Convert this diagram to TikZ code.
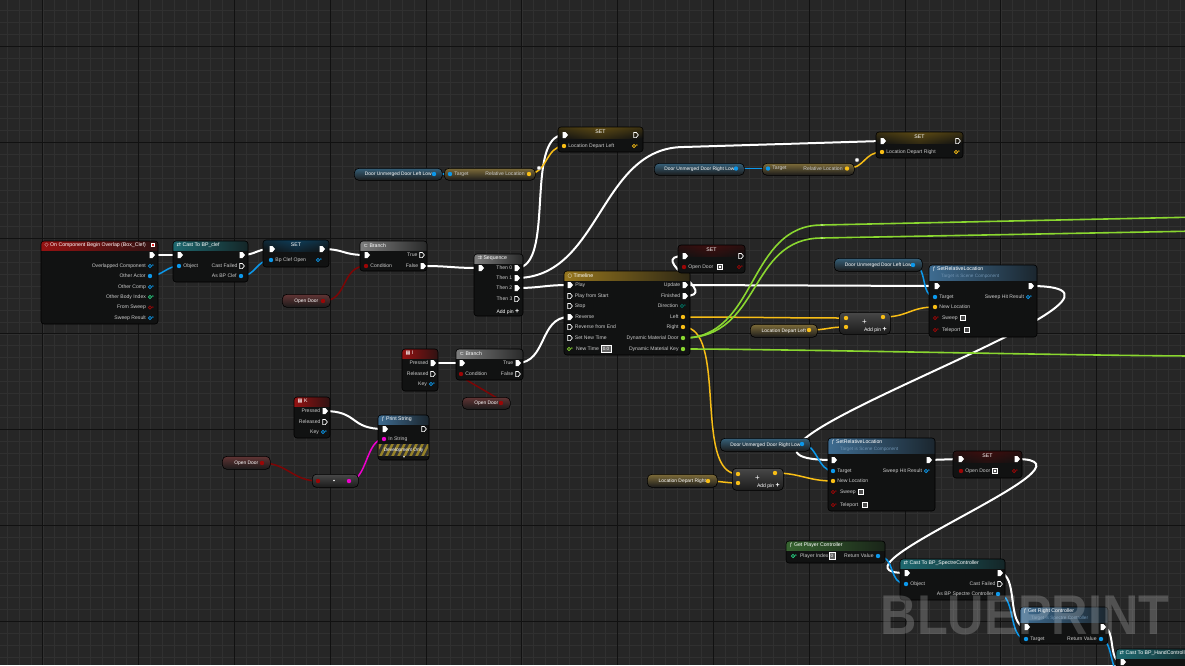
\documentclass[tikz,border=0pt]{standalone}
\usepackage{fontspec}
\setmainfont{Liberation Sans}
\newfontfamily\sym{DejaVu Sans}
\usetikzlibrary{shapes.symbols}
\pgfdeclarelayer{grid}
\pgfdeclarelayer{wires}
\pgfdeclarelayer{top}
\pgfsetlayers{grid,wires,main,top}

\definecolor{bgc}{RGB}{38,38,38}
\definecolor{minorc}{RGB}{48,48,48}
\definecolor{majorc}{RGB}{17,17,17}
\definecolor{bodyc}{RGB}{17,18,18}
\definecolor{labc}{RGB}{205,205,205}
\definecolor{objc}{RGB}{12,152,235}
\definecolor{vecc}{RGB}{248,190,22}
\definecolor{boolc}{RGB}{155,6,6}
\definecolor{boolw}{RGB}{125,5,5}
\definecolor{strc}{RGB}{238,0,205}
\definecolor{greenc}{RGB}{138,215,48}
\definecolor{intc}{RGB}{40,210,130}
\definecolor{dirc}{RGB}{0,115,98}
\definecolor{evred}{RGB}{150,18,18}
\definecolor{castc}{RGB}{30,105,112}
\definecolor{grayh}{RGB}{125,125,125}
\definecolor{tlc}{RGB}{150,118,30}
\definecolor{fnc}{RGB}{62,108,145}
\definecolor{gpcc}{RGB}{55,100,48}
\definecolor{subc}{RGB}{110,145,175}
\definecolor{pilltop}{RGB}{72,72,72}
\definecolor{pillbot}{RGB}{27,27,27}
\definecolor{devy}{RGB}{150,130,40}

\tikzset{
  minorline/.style={draw=minorc, line width=0.6pt},
  majorline/.style={draw=majorc, line width=1pt},
  bpbody/.style={anchor=north west, fill=bodyc, draw=none, rounded corners=3pt, inner sep=0pt, outer sep=0pt},
  bpedge/.style={draw=black, line width=0.6pt, rounded corners=3pt},
  ttl/.style={anchor=west, text=white, font=\fontsize{5.2}{6}\selectfont, inner sep=0pt},
  subt/.style={anchor=west, text=subc, font=\fontsize{4.7}{5.5}\selectfont, inner sep=0pt},
  lbl/.style={text=labc, font=\fontsize{5.1}{6}\selectfont, inner sep=0pt},
  pill/.style={anchor=north west, draw=black, line width=0.6pt, rounded corners=4.5pt, inner sep=0pt, text=white, font=\fontsize{4.9}{6}\selectfont},
  addb/.style={anchor=north west, draw=black, line width=0.6pt, rounded corners=4pt, inner sep=0pt, top color=pilltop, bottom color=pillbot},
  exf/.style={signal, signal to=east, signal pointer angle=100, fill=white, draw=none, inner sep=0pt, minimum width=5.5pt, minimum height=6pt},
  exh/.style={signal, signal to=east, signal pointer angle=100, draw=white, line width=0.7pt, fill=none, inner sep=0pt, minimum width=4.6pt, minimum height=5.2pt},
  dp/.style={circle, fill=#1, draw=none, inner sep=0pt, minimum size=4.4pt},
  dh/.style={circle, draw=#1, line width=0.75pt, fill=none, inner sep=0pt, minimum size=3.4pt, label={[text=#1, inner sep=0pt, xshift=-1.6pt, font=\sym\fontsize{3.6}{4}\selectfont]right:▸}},
  chk/.style={draw=white!80, line width=0.5pt, fill=black!70, inner sep=0pt, minimum size=4.6pt},
  chkon/.style={chk, path picture={\fill[white!85] ([shift={(-1.2pt,-1.2pt)}]path picture bounding box.center) rectangle ([shift={(1.2pt,1.2pt)}]path picture bounding box.center);}},
  valbox/.style={draw=white!60, line width=0.4pt, fill=black!60, text=white, font=\fontsize{4.6}{5}\selectfont, inner sep=0.8pt, minimum height=7pt},
  knotw/.style={circle, fill=white!85, draw=gray, line width=0.3pt, inner sep=0pt, minimum size=4pt},
  knotg/.style={rectangle, fill=greenc!70!white, inner sep=0pt, minimum size=2.6pt},
  wx/.style={draw=white, line width=2pt, line cap=round},
  wo/.style={draw=objc, line width=1.5pt, line cap=round},
  wv/.style={draw=vecc, line width=1.5pt, line cap=round},
  wb/.style={draw=boolw, line width=1.5pt, line cap=round},
  ws/.style={draw=strc, line width=1.5pt, line cap=round},
  wg/.style={draw=greenc, line width=1.6pt, line cap=round},
}

% name, x, y, w, h, header colour, header height, title
\newcommand{\bpbox}[8]{%
  \node[bpbody, minimum width=#4pt, minimum height=#5pt] (#1) at (#2,#3) {};
  \begin{scope}
    \clip[rounded corners=3pt] (#2,#3) rectangle ++(#4,#5);
    \shade[left color=#6, right color=#6!22!bodyc] (#2,#3) rectangle ++(#4,#7);
  \end{scope}
  \draw[bpedge] (#2,#3) rectangle ++(#4,#5);
  \node[ttl] (#1-t) at (#2+3.5,#3+4.5) {#8};
}
% name, x, y, w, h, glow colour
\newcommand{\bpsetbox}[6]{%
  \node[bpbody, minimum width=#4pt, minimum height=#5pt] (#1) at (#2,#3) {};
  \begin{scope}
    \clip[rounded corners=3pt] (#2,#3) rectangle ++(#4,#5);
    \shade[top color=#6!45!bodyc, bottom color=bodyc] (#2,#3) rectangle ++(#4,11);
    \shade[left color=bodyc, right color=bodyc, middle color=#6!25!bodyc, opacity=0.6] (#2,#3) rectangle ++(#4,11);
  \end{scope}
  \draw[bpedge] (#2,#3) rectangle ++(#4,#5);
  \node[ttl, anchor=center] (#1-t) at (#2+#4/2,#3+5) {SET};
}
% name, x, y, w, h, glow, text
\newcommand{\bppill}[7]{%
  \node[pill, minimum width=#4pt, minimum height=#5pt, top color=#6!30!pilltop, bottom color=pillbot] (#1) at (#2,#3) {#7\hspace{7pt}};
}
% name, x, y
\newcommand{\bpadd}[3]{%
  \node[addb, minimum width=51pt, minimum height=22pt] (#1) at (#2,#3) {};
  \node[text=white!55, font=\fontsize{8}{8}\selectfont, inner sep=0pt] (#1-plus) at (#2+25.5,#3+10) {+};
  \node[lbl, text=white!85, anchor=east] (#1-ap) at (#2+48,#3+17.5) {Add pin {\fontsize{7}{7}\selectfont\textbf{+}}};
}

\begin{document}
\begin{tikzpicture}[x=1pt, y=-1pt, label distance=1.8pt]
\useasboundingbox (0,0) rectangle (1185,665);
\begin{pgfonlayer}{grid}
  \fill[bgc] (0,0) rectangle (1185,665);
  \foreach \i in {-76,...,24} \draw[minorline] ({905+11.975*\i},0) -- ++(0,665);
  \foreach \j in {-20,...,36} \draw[minorline] (0,{238+11.975*\j}) -- ++(1185,0);
  \foreach \i in {-10,...,3} \draw[majorline] ({905+95.8*\i},0) -- ++(0,665);
  \foreach \j in {-3,...,5} \draw[majorline] (0,{238+95.8*\j}) -- ++(1185,0);
\end{pgfonlayer}

\begin{scope}
\clip (0,0) rectangle (1185,665);
% ---- On Component Begin Overlap
\bpbox{ev}{41}{241}{117}{83}{evred}{9}{{\sym ◇}\ On Component Begin Overlap (Box\_Clef)}
\node[fill={rgb,255:red,225;green,30;blue,30}, draw=white!60, line width=0.3pt, minimum size=3.2pt, inner sep=0pt] (ev-sq) at (153,245) {};
\node[exf] (ev-x) at (151,255) {};
\node[dh=objc, label={[lbl]left:Overlapped Component}] (ev-oc) at (150,266) {};
\node[dp=objc, label={[lbl]left:Other Actor}] (ev-oa) at (150,276) {};
\node[dh=objc, label={[lbl]left:Other Comp}] (ev-ocp) at (150,287) {};
\node[dh=intc, label={[lbl]left:Other Body Index}] (ev-obi) at (150,297) {};
\node[dh=boolc, label={[lbl]left:From Sweep}] (ev-fs) at (150,307.5) {};
\node[dh=objc, label={[lbl]left:Sweep Result}] (ev-sr) at (150,318) {};
% ---- Cast To BP_clef
\bpbox{cast}{173}{241}{75}{41}{castc}{9}{{\sym ⇄}\ Cast To BP\_clef}
\node[exf] (cast-in) at (179,255) {};
\node[exf] (cast-out) at (241,255) {};
\node[dp=objc, label={[lbl]right:Object}] (cast-obj) at (179,266) {};
\node[exh, label={[lbl]left:Cast Failed}] (cast-fail) at (241,266) {};
\node[dp=objc, label={[lbl]left:As BP Clef}] (cast-as) at (241,276) {};
% ---- SET Bp Clef Open
\bpsetbox{set1}{263}{240}{66}{27}{objc}
\node[exf] (set1-in) at (271,249) {};
\node[exf] (set1-out) at (321,249) {};
\node[dp=objc, label={[lbl]right:Bp Clef Open}] (set1-bc) at (271,260) {};
\node[dh=objc] (set1-bco) at (318,260) {};
% ---- Branch 1
\bpbox{br1}{360}{241}{67}{30}{grayh}{9}{{\sym ⊂}\ Branch}
\node[exf] (br1-in) at (366,255) {};
\node[exh, label={[lbl]left:True}] (br1-t) at (421,255) {};
\node[dp=boolc, label={[lbl]right:Condition}] (br1-c) at (366,266) {};
\node[exf, label={[lbl]left:False}] (br1-f) at (422,266) {};
\bppill{od1}{282}{294}{48}{13}{boolc}{Open Door}
\node[dp=boolc] (od1-p) at (323,301) {};
% ---- Sequence
\bpbox{seq}{474}{254}{49}{62}{grayh}{9}{{\sym ⇉}\ Sequence}
\node[exf] (seq-in) at (480,268) {};
\node[exf, label={[lbl]left:Then 0}] (seq-t0) at (516,268) {};
\node[exf, label={[lbl]left:Then 1}] (seq-t1) at (516,278) {};
\node[exf, label={[lbl]left:Then 2}] (seq-t2) at (516,288) {};
\node[exh, label={[lbl]left:Then 3}] (seq-t3) at (516,299) {};
\node[lbl, anchor=east, text=white!85] (seq-add) at (519.5,312) {Add pin {\fontsize{7}{7}\selectfont\textbf{+}}};
% ---- Timeline
\bpbox{tl}{564}{271}{126}{84}{tlc}{9}{{\sym ○}\ Timeline}
\node[exf, label={[lbl]right:Play}] (tl-play) at (569,285) {};
\node[exh, label={[lbl]right:Play from Start}] (tl-pfs) at (569,296) {};
\node[exh, label={[lbl]right:Stop}] (tl-stop) at (569,306) {};
\node[exf, label={[lbl]right:Reverse}] (tl-rev) at (569,317) {};
\node[exh, label={[lbl]right:Reverse from End}] (tl-rfe) at (569,327) {};
\node[exh, label={[lbl]right:Set New Time}] (tl-snt) at (569,338) {};
\node[dh=greenc, label={[lbl, xshift=3pt]right:New Time}] (tl-nt) at (569,349) {};
\node[valbox, minimum width=10pt] (tl-ntv) at (606,349) {0.0};
\node[exf, label={[lbl]left:Update}] (tl-upd) at (684,285) {};
\node[exf, label={[lbl]left:Finished}] (tl-fin) at (684,296) {};
\node[dh=dirc, label={[lbl]left:Direction}] (tl-dir) at (682,306) {};
\node[dp=vecc, label={[lbl]left:Left}] (tl-l) at (683,317) {};
\node[dp=vecc, label={[lbl]left:Right}] (tl-r) at (683,327) {};
\node[dp=greenc, label={[lbl]left:Dynamic Material Door}] (tl-dd) at (683,338) {};
\node[dp=greenc, label={[lbl]left:Dynamic Material Key}] (tl-dk) at (683,349) {};
% ---- SET Open Door (top)
\bpsetbox{set2}{678}{245}{67}{28}{boolc}
\node[exf] (set2-in) at (684,256) {};
\node[exh] (set2-out) at (740,256) {};
\node[dp=boolc, label={[lbl]right:Open Door}] (set2-od) at (684,267) {};
\node[chkon] (set2-chk) at (720,267) {};
\node[dh=boolc] (set2-odo) at (739,267) {};
% ---- SET Location Depart Left
\bpsetbox{setL}{558}{127}{85}{25}{vecc}
\node[exf] (setL-in) at (564,135) {};
\node[exh] (setL-out) at (635,135) {};
\node[dp=vecc, label={[lbl]right:Location Depart Left}] (setL-v) at (564,146) {};
\node[dh=vecc] (setL-vo) at (634,146) {};
\bppill{dl1}{354}{168}{88}{12}{objc}{Door Unmerged Door Left Low}
\node[dp=objc] (dl1-p) at (434,174) {};
\bppill{rl1}{444}{168}{91}{12}{vecc}{}
\node[dp=objc, label={[lbl]right:Target}] (rl1-t) at (450,174) {};
\node[dp=vecc, label={[lbl]left:Relative Location}] (rl1-o) at (529,174) {};
% ---- SET Location Depart Right
\bpsetbox{setR}{876}{132}{87}{26}{vecc}
\node[exf] (setR-in) at (882,141) {};
\node[exh] (setR-out) at (957,141) {};
\node[dp=vecc, label={[lbl]right:Location Depart Right}] (setR-v) at (882,152) {};
\node[dh=vecc] (setR-vo) at (956,152) {};
\bppill{dr1}{654}{163}{90}{12}{objc}{Door Unmerged Door Right Low}
\node[dp=objc] (dr1-p) at (736,168.5) {};
\bppill{rl2}{762}{163}{92}{12}{vecc}{}
\node[dp=objc, label={[lbl]right:Target}] (rl2-t) at (768,168.5) {};
\node[dp=vecc, label={[lbl]left:Relative Location}] (rl2-o) at (847,168.5) {};
% ---- SetRelativeLocation (top)
\bpbox{srl1}{929}{265}{108}{72}{fnc}{15}{ƒ\ SetRelativeLocation}
\node[subt] (srl1-s) at (941,276) {Target is Scene Component};
\node[exf] (srl1-in) at (936,286) {};
\node[exf] (srl1-out) at (1030,286) {};
\node[dp=objc, label={[lbl]right:Target}] (srl1-t) at (935,297) {};
\node[dh=objc, label={[lbl]left:Sweep Hit Result}] (srl1-shr) at (1028,297) {};
\node[dp=vecc, label={[lbl]right:New Location}] (srl1-nl) at (935,307) {};
\node[dh=boolc, label={[lbl, xshift=3pt]right:Sweep}] (srl1-sw) at (935,318) {};
\node[chk] (srl1-swc) at (963,318) {};
\node[dh=boolc, label={[lbl, xshift=3pt]right:Teleport}] (srl1-tp) at (935,330) {};
\node[chk] (srl1-tpc) at (967,330) {};
\bppill{dl2}{834}{258}{88}{13}{objc}{Door Unmerged Door Left Low}
\node[dp=objc] (dl2-p) at (913,265) {};
\bpadd{add1}{839}{312}
\node[dp=vecc] (add1-a) at (846,318) {};
\node[dp=vecc] (add1-b) at (846,327) {};
\node[dp=vecc] (add1-o) at (883,317) {};
\bppill{ldl}{750}{324}{67}{13}{vecc}{Location Depart Left}
\node[dp=vecc] (ldl-p) at (809,330) {};
% ---- Input I
\bpbox{evI}{402}{349}{36}{42}{evred}{9}{{\sym ▦}\ I}
\node[exf, label={[lbl]left:Pressed}] (evI-p) at (432,363) {};
\node[exh, label={[lbl]left:Released}] (evI-r) at (432,374) {};
\node[dh=objc, label={[lbl]left:Key}] (evI-k) at (431,384) {};
% ---- Branch 2
\bpbox{br2}{456}{349}{67}{31}{grayh}{9}{{\sym ⊂}\ Branch}
\node[exf] (br2-in) at (461,363) {};
\node[exf, label={[lbl]left:True}] (br2-t) at (517,363) {};
\node[dp=boolc, label={[lbl]right:Condition}] (br2-c) at (461,374) {};
\node[exh, label={[lbl]left:False}] (br2-f) at (517,374) {};
\bppill{od2}{462}{397}{48}{12}{boolc}{Open Door}
\node[dp=boolc] (od2-p) at (501,403) {};
% ---- Input K
\bpbox{evK}{294}{397}{36}{41}{evred}{9}{{\sym ▦}\ K}
\node[exf, label={[lbl]left:Pressed}] (evK-p) at (324,411) {};
\node[exh, label={[lbl]left:Released}] (evK-r) at (324,422) {};
\node[dh=objc, label={[lbl]left:Key}] (evK-k) at (323,432) {};
% ---- Print String
\bpbox{ps}{378}{415}{51}{45}{fnc}{9}{ƒ\ Print String}
\node[exf] (ps-in) at (384,429) {};
\node[exh] (ps-out) at (423,429) {};
\node[dp=strc, label={[lbl]right:In String}] (ps-str) at (384,439) {};
\begin{scope}
  \clip (378.6,444) rectangle (428.4,456);
  \fill[devy] (378,444) rectangle (429,456);
  \foreach \i in {0,...,10} \fill[black!80] ({370+6*\i},456) -- ++(3,0) -- ++(6,-12) -- ++(-3,0) -- cycle;
\end{scope}
\node[text=white!92, font=\fontsize{4.8}{5}\selectfont, inner sep=0pt] (ps-dev) at (403.5,450) {Development Only};
\node[text=white, font=\sym\fontsize{4}{4}\selectfont, inner sep=0pt] (ps-arr) at (404,457.2) {▾};
\bppill{od3}{222}{456}{48}{13}{boolc}{Open Door}
\node[dp=boolc] (od3-p) at (262,463) {};
\node[addb, minimum width=46pt, minimum height=13pt] (conv) at (312,474) {};
\node[circle, fill=white!55, inner sep=0pt, minimum size=1.6pt] (conv-dot) at (334,480.5) {};
\node[dp=boolc] (conv-i) at (318,481) {};
\node[dp=strc] (conv-o) at (349,481) {};
% ---- SetRelativeLocation (lower)
\bppill{dr2}{720}{438}{90}{13}{objc}{Door Unmerged Door Right Low}
\node[dp=objc] (dr2-p) at (802,444) {};
\bpbox{srl2}{828}{438}{107}{73}{fnc}{15}{ƒ\ SetRelativeLocation}
\node[subt] (srl2-s) at (840,449.5) {Target is Scene Component};
\node[exf] (srl2-in) at (833,460) {};
\node[exf] (srl2-out) at (928,460) {};
\node[dp=objc, label={[lbl]right:Target}] (srl2-t) at (833,471) {};
\node[dh=objc, label={[lbl]left:Sweep Hit Result}] (srl2-shr) at (926,471) {};
\node[dp=vecc, label={[lbl]right:New Location}] (srl2-nl) at (833,481) {};
\node[dh=boolc, label={[lbl, xshift=3pt]right:Sweep}] (srl2-sw) at (833,492) {};
\node[chk] (srl2-swc) at (861,492) {};
\node[dh=boolc, label={[lbl, xshift=3pt]right:Teleport}] (srl2-tp) at (833,505) {};
\node[chk] (srl2-tpc) at (865,505) {};
\bpadd{add2}{732}{468}
\node[dp=vecc] (add2-a) at (738,474) {};
\node[dp=vecc] (add2-b) at (738,483) {};
\node[dp=vecc] (add2-o) at (775,473) {};
\bppill{ldr}{647}{474}{70}{13}{vecc}{Location Depart Right}
\node[dp=vecc] (ldr-p) at (708,481) {};
% ---- SET Open Door (lower)
\bpsetbox{set3}{953}{451}{69}{27}{boolc}
\node[exf] (set3-in) at (960,459) {};
\node[exf] (set3-out) at (1016,459) {};
\node[dp=boolc, label={[lbl]right:Open Door}] (set3-od) at (961,471) {};
\node[chkon] (set3-chk) at (995,471) {};
\node[dh=boolc] (set3-odo) at (1014,471) {};
% ---- Get Player Controller
\bpbox{gpc}{786}{541}{99}{22}{gpcc}{9}{ƒ\ Get Player Controller}
\node[dh=intc, label={[lbl, xshift=3pt]right:Player Index}] (gpc-pi) at (793,556) {};
\node[valbox, minimum width=6pt] (gpc-piv) at (832,556) {0};
\node[dp=objc, label={[lbl]left:Return Value}] (gpc-rv) at (878,556) {};
% ---- Cast To BP_SpectreController
\bpbox{cs}{900}{559}{105}{41}{castc}{9}{{\sym ⇄}\ Cast To BP\_SpectreController}
\node[exf] (cs-in) at (906,573) {};
\node[exf] (cs-out) at (999,573) {};
\node[dp=objc, label={[lbl]right:Object}] (cs-obj) at (906,584) {};
\node[exh, label={[lbl]left:Cast Failed}] (cs-fail) at (999,584) {};
\node[dp=objc, label={[lbl]left:As BP Spectre Controller}] (cs-as) at (998,594) {};
% ---- Get Right Controller
\bpbox{grc}{1020}{607}{88}{37}{fnc}{15}{ƒ\ Get Right Controller}
\node[subt] (grc-s) at (1031,618) {Target is Spectre Controller};
\node[exf] (grc-in) at (1026,627) {};
\node[exf] (grc-out) at (1102,627) {};
\node[dp=objc, label={[lbl]right:Target}] (grc-t) at (1026,639) {};
\node[dp=objc, label={[lbl]left:Return Value}] (grc-rv) at (1101,639) {};
% ---- Cast To BP_HandController (cut off)
\bpbox{ch}{1116}{649}{90}{30}{castc}{9}{{\sym ⇄}\ Cast To BP\_HandController}
\node[exf] (ch-in) at (1122,662) {};
\coordinate (ch-obj) at (1122,676);
% ---- knots and off-picture ends
\node[knotw] (k1) at (539,168) {};
\node[rectangle, fill=white, inner sep=0pt, minimum size=2.6pt] (k2) at (684,147) {};
\node[knotw] (k3) at (857,160) {};
\node[knotg] (gk1) at (822,225) {};
\node[knotg] (gk2) at (822,238) {};
\coordinate (g1end) at (1200,217);
\coordinate (g2end) at (1200,231);
\coordinate (g3end) at (1200,356);
\end{scope}

\begin{pgfonlayer}{wires}
\clip (0,0) rectangle (1185,665);
% exec wires
\draw[wx] (ev-x.center) -- (cast-in.center);
\draw[wx] (cast-out.center) .. controls +(15,0) and +(-15,0) .. (set1-in.center);
\draw[wx] (set1-out.center) .. controls +(25,0) and +(-25,0) .. (br1-in.center);
\draw[wx] (br1-f.center) .. controls +(30,0) and +(-30,0) .. (seq-in.center);
\draw[wx] (seq-t0.center) .. controls +(40,0) and +(-40,0) .. (setL-in.center);
\draw[wx] (seq-t1.center) .. controls +(85,0) and +(-85,0) .. (k2.center) -- (setR-in.center);
\draw[wx] (seq-t2.center) .. controls +(25,0) and +(-25,0) .. (tl-play.center);
\draw[wx] (tl-upd.center) -- (srl1-in.center);
\draw[wx] (tl-fin.center) .. controls +(40,0) and +(-40,0) .. (set2-in.center);
\draw[wx] (srl1-out.center) .. controls +(175,0) and +(-180,0) .. (srl2-in.center);
\draw[wx] (srl2-out.center) -- (set3-in.center);
\draw[wx] (set3-out.center) .. controls +(100,0) and +(-95,0) .. (cs-in.center);
\draw[wx] (cs-out.center) .. controls +(20,0) and +(-20,0) .. (grc-in.center);
\draw[wx] (grc-out.center) .. controls +(15,0) and +(-15,0) .. (ch-in.center);
\draw[wx] (evI-p.center) -- (br2-in.center);
\draw[wx] (br2-t.center) .. controls +(30,0) and +(-30,0) .. (tl-rev.center);
\draw[wx] (evK-p.center) .. controls +(35,0) and +(-35,0) .. (ps-in.center);
% data wires
\draw[wo] (ev-oa.center) .. controls +(12,0) and +(-12,0) .. (cast-obj.center);
\draw[wo] (cast-as.center) .. controls +(15,0) and +(-15,0) .. (set1-bc.center);
\draw[wb] (od1-p.center) .. controls +(25,0) and +(-25,0) .. (br1-c.center);
\draw[wo] (dl1-p.center) -- (rl1-t.center);
\draw[wv] (rl1-o.center) .. controls +(18,0) and +(-18,0) .. (setL-v.center);
\draw[wo] (dr1-p.center) -- (rl2-t.center);
\draw[wv] (rl2-o.center) .. controls +(18,0) and +(-18,0) .. (setR-v.center);
\draw[wo] (dl2-p.center) .. controls +(15,0) and +(-15,0) .. (srl1-t.center);
\draw[wv] (tl-l.center) .. controls +(60,0) and +(-60,0) .. (add1-a.center);
\draw[wv] (ldl-p.center) .. controls +(18,0) and +(-18,0) .. (add1-b.center);
\draw[wv] (add1-o.center) .. controls +(25,0) and +(-25,0) .. (srl1-nl.center);
\draw[wv] (tl-r.center) .. controls +(45,0) and +(-45,0) .. (add2-a.center);
\draw[wv] (ldr-p.center) .. controls +(12,0) and +(-12,0) .. (add2-b.center);
\draw[wv] (add2-o.center) .. controls +(25,0) and +(-25,0) .. (srl2-nl.center);
\draw[wo] (dr2-p.center) .. controls +(15,0) and +(-15,0) .. (srl2-t.center);
\draw[wb] (od2-p.center) .. controls +(10,0) and +(-10,0) .. (br2-c.center);
\draw[wb] (od3-p.center) .. controls +(25,0) and +(-25,0) .. (conv-i.center);
\draw[ws] (conv-o.center) .. controls +(18,0) and +(-18,0) .. (ps-str.center);
\draw[wo] (gpc-rv.center) .. controls +(18,0) and +(-18,0) .. (cs-obj.center);
\draw[wo] (cs-as.center) .. controls +(18,0) and +(-18,0) .. (grc-t.center);
\draw[wo] (grc-rv.center) .. controls +(12,0) and +(-12,0) .. (ch-obj);
\draw[wg] (tl-dd.center) .. controls +(75,0) and +(-75,0) .. (gk1.center) -- (g1end);
\draw[wg] (tl-dd.center) .. controls +(80,0) and +(-75,0) .. (gk2.center) -- (g2end);
\draw[wg] (tl-dk.center) .. controls +(100,0) and +(-100,0) .. (g3end);
\end{pgfonlayer}

\begin{pgfonlayer}{top}
\node[text=white, text opacity=0.2, font=\bfseries\fontsize{56}{56}\selectfont, inner sep=0pt] (wm) at (1025,615) {\scalebox{0.9}[1]{BLUEPRINT}};
\end{pgfonlayer}
\end{tikzpicture}
\end{document}
